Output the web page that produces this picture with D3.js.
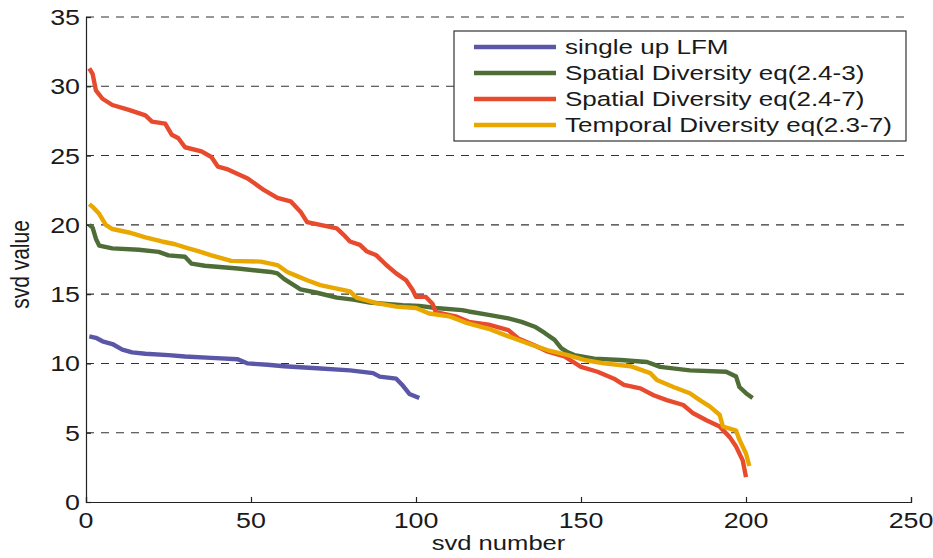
<!DOCTYPE html>
<html><head><meta charset="utf-8">
<script src="https://cdn.jsdelivr.net/npm/d3@7"></script>
<style>html,body{margin:0;padding:0;background:#fff;}svg{display:block;font-family:"Liberation Sans",Arial,Helvetica,sans-serif;}</style>
</head><body>
<script>
// ---- data ----
const seriesNames = ["single up LFM","Spatial Diversity eq(2.4-3)","Spatial Diversity eq(2.4-7)","Temporal Diversity eq(2.3-7)"];
const seriesColors = ["#5b57a8","#4f6d36","#e84a2e","#e9a700"];

const blueX = [1,3,5,8,11,14,18,25,30,38,46,49,55,60,70,80,87,89,94,96,98,101];
const blueY = [11.95,11.85,11.6,11.4,11.0,10.8,10.7,10.6,10.5,10.4,10.3,10.0,9.9,9.8,9.65,9.5,9.3,9.05,8.9,8.4,7.8,7.5];

const greenX = [1,2,3,4,8,16,22,25,30,32,36,46,56,58,60,65,70,76,81,86,91,96,101,106,114,116,122,128,132,136,139,142,144,146,148,154,162,170,174,183,194,197,198,200,202];
const greenY = [20.0,19.8,19.0,18.5,18.3,18.2,18.05,17.8,17.7,17.2,17.05,16.85,16.6,16.5,16.1,15.35,15.1,14.75,14.6,14.4,14.3,14.2,14.15,14.0,13.85,13.75,13.5,13.25,13.0,12.65,12.2,11.7,11.1,10.8,10.6,10.35,10.25,10.1,9.75,9.5,9.4,9.05,8.3,7.85,7.5];

const redX = [1,2,3,5,8,13,18,20,24,26,28,30,35,38,40,43,49,54,58,62,65,67,71,76,78,80,83,85,88,91,94,97,99,100,103,105,106,112,116,122,128,131,136,140,145,150,155,160,163,168,172,176,181,184,188,192,195,197,199,200];
const redY = [31.3,30.9,29.7,29.1,28.65,28.3,27.9,27.45,27.3,26.5,26.25,25.6,25.3,24.9,24.2,24.0,23.35,22.5,21.95,21.7,20.95,20.2,20.0,19.75,19.3,18.8,18.55,18.1,17.8,17.1,16.5,16.0,15.3,14.8,14.8,14.3,13.7,13.4,13.0,12.8,12.4,11.8,11.3,10.85,10.5,9.75,9.4,8.9,8.45,8.2,7.7,7.35,7.0,6.4,5.9,5.45,4.7,4.0,3.0,1.8];

const yellowX = [1,2,4,6,8,13,18,23,27,31,34,38,44,53,58,61,64,67,71,76,80,82,88,94,100,104,110,115,122,128,135,140,146,151,157,165,171,173,178,183,186,189,192,193,197,198,200,201];
const yellowY = [21.5,21.3,20.8,20.0,19.7,19.45,19.1,18.8,18.6,18.3,18.1,17.8,17.4,17.35,17.1,16.6,16.3,16.0,15.65,15.4,15.2,14.75,14.35,14.1,14.0,13.6,13.4,12.95,12.5,11.95,11.35,10.95,10.6,10.25,10.0,9.8,9.3,8.8,8.3,7.85,7.35,6.9,6.3,5.45,5.15,4.5,3.5,2.6];

const xTicks = [0,50,100,150,200,250];
const yTicks = [0,5,10,15,20,25,30,35];
const xLabel = "svd number";
const yLabel = "svd value";

// ---- chart ----
const W = 933, H = 558;
const m = {left:86, right:22, top:17, bottom:56};
const svg = d3.select("body").append("svg").attr("width",W).attr("height",H);
const x = d3.scaleLinear().domain([0,250]).range([m.left, W-m.right]);
const y = d3.scaleLinear().domain([0,35]).range([H-m.bottom, m.top]);
const SX = 1.22; // horizontal stretch of the scanned figure text

function stext(g, tx, ty, str, size, anchor, rot, sx){
  const k = sx || SX;
  const t = g.append("g").attr("transform", `translate(${tx},${ty})` + (rot?` rotate(${rot})`:"") + ` scale(${rot?1:k},${rot?k:1})`)
    .append("text").attr("font-size",size).attr("fill","#1a1a1a").attr("text-anchor",anchor).text(str);
  return t;
}

// gridlines
svg.append("g").selectAll("line").data(yTicks.filter(d=>d>0)).join("line")
  .attr("x1",x(0)).attr("x2",x(250)).attr("y1",d=>y(d)).attr("y2",d=>y(d))
  .attr("stroke","#333").attr("stroke-width",1.1).attr("stroke-dasharray","8,7");

// axes
const xAxis = d3.axisBottom(x).tickValues(xTicks).tickSize(-5).tickFormat("");
const yAxis = d3.axisLeft(y).tickValues(yTicks).tickSize(-5).tickFormat("");
const gx = svg.append("g").attr("transform",`translate(0,${y(0)})`).call(xAxis);
const gy = svg.append("g").attr("transform",`translate(${x(0)},0)`).call(yAxis);
[gx,gy].forEach(g=>{g.selectAll("path,line").attr("stroke","#222").attr("stroke-width",1.2);});

const labels = svg.append("g");
xTicks.forEach(v=>{ stext(labels, x(v), y(0)+26, String(v), 22, "middle"); });
yTicks.forEach(v=>{ stext(labels, x(0)-6, y(v)+8, String(v), 22, "end"); });
stext(labels, (x(0)+x(250))/2, H-8, xLabel, 21, "middle");
stext(labels, 29, (y(0)+y(35))/2 + 5, yLabel, 21, "middle", -90);

// lines
const data = [[blueX,blueY],[greenX,greenY],[redX,redY],[yellowX,yellowY]];
const line = d3.line().x(d=>x(d[0])).y(d=>y(d[1]));
data.forEach((s,i)=>{
  const pts = s[0].map((v,j)=>[v,s[1][j]]);
  svg.append("path").datum(pts).attr("d",line).attr("fill","none")
    .attr("stroke",seriesColors[i]).attr("stroke-width",4.4).attr("stroke-linejoin","round");
});

// legend
const lg = svg.append("g");
lg.append("rect").attr("x",454).attr("y",31).attr("width",452).attr("height",110)
  .attr("fill","#fff").attr("stroke","#333").attr("stroke-width",1.2);
seriesNames.forEach((n,i)=>{
  const yy = 47 + i*26;
  lg.append("line").attr("x1",474).attr("x2",556).attr("y1",yy).attr("y2",yy)
    .attr("stroke",seriesColors[i]).attr("stroke-width",4.4);
  stext(lg, 565, yy+7, n, 20.5, "start", 0, 1.27);
});
</script>
</body></html>
